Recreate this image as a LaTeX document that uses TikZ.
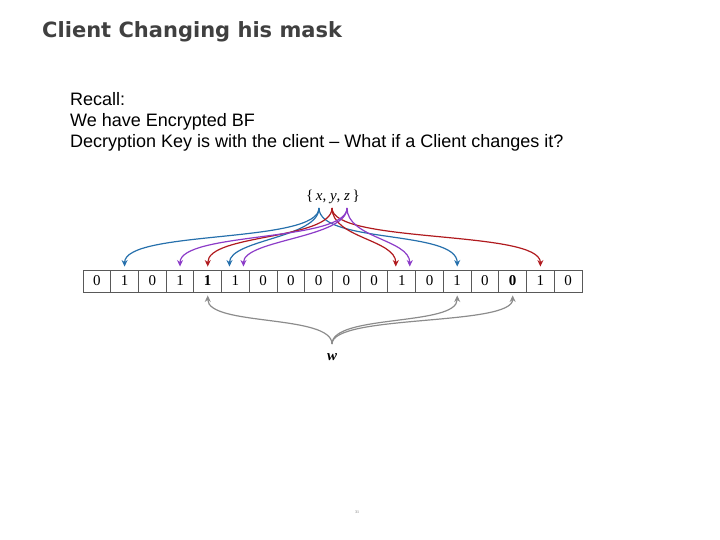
\documentclass[tikz,border=0pt]{standalone}
\usepackage{fontspec}
\setmainfont{Liberation Serif}
\newfontfamily\titlefont{DejaVu Sans}
\newfontfamily\bodyfont{Liberation Sans}
\usetikzlibrary{arrows.meta}
\definecolor{bfblue}{RGB}{38,112,172}
\definecolor{bfred}{RGB}{176,26,30}
\definecolor{bfpurple}{RGB}{140,60,200}
\definecolor{bfgray}{RGB}{140,140,140}
\definecolor{titlegray}{RGB}{64,64,64}
\tikzset{
  cell/.style={draw=black!65, line width=0.9pt, minimum width=27.72pt, minimum height=22pt, inner sep=0pt, font=\fontsize{15}{15}\selectfont},
  hash/.style={line width=1.2pt, -{Stealth[length=6.5pt,width=6pt]}, shorten >=3pt},
  titletext/.style={anchor=base west, font=\titlefont\bfseries\fontsize{21}{24}\selectfont, text=titlegray, inner sep=0pt},
  bodytext/.style={anchor=base west, font=\bodyfont\fontsize{18}{20}\selectfont, inner sep=0pt}
}
\begin{document}
\begin{tikzpicture}[x=1pt,y=-1pt]
\useasboundingbox (0,0) rectangle (720,540);
\node[titletext] (title) at (42,38) {Client Changing his mask};
\node[bodytext] (l1) at (70,106) {Recall:};
\node[bodytext] (l2) at (70,127) {We have Encrypted BF};
\node[bodytext] (l3) at (70,148) {Decryption Key is with the client – What if a Client changes it?};
% bit array
\foreach \v [count=\i from 0] in {0,1,0,1,{\textbf{1}},1,0,0,0,0,0,1,0,1,0,{\textbf{0}},1,0}
  \node[cell] (c\i) at ({83+27.72*(\i+0.5)},281) {\v};
% elements
\node[font=\fontsize{15}{15}\selectfont, inner sep=0pt] (set) at (333,197) {\{\,\textit{x}, \textit{y}, \textit{z}\,\}};
\coordinate (sx) at (319,208);
\coordinate (sy) at (332,208);
\coordinate (sz) at (347,208);
% x (blue)
\draw[hash,bfblue] (sx) .. controls +(0,36) and +(0,-40) .. (c1.north);
\draw[hash,bfblue] (sx) .. controls +(0,30) and +(0,-30) .. ([xshift=-6pt]c5.north);
\draw[hash,bfblue] (sx) .. controls +(0,36) and +(0,-40) .. (c13.north);
% y (red)
\draw[hash,bfred] (sy) .. controls +(0,32) and +(0,-36) .. (c4.north);
\draw[hash,bfred] (sy) .. controls +(0,30) and +(0,-30) .. ([xshift=-6pt]c11.north);
\draw[hash,bfred] (sy) .. controls +(0,36) and +(0,-40) .. (c16.north);
% z (purple)
\draw[hash,bfpurple] (sz) .. controls +(0,34) and +(0,-38) .. (c3.north);
\draw[hash,bfpurple] (sz) .. controls +(0,30) and +(0,-30) .. ([xshift=8pt]c5.north);
\draw[hash,bfpurple] (sz) .. controls +(0,30) and +(0,-30) .. ([xshift=8pt]c11.north);
% w (gray)
\node[font=\fontsize{15}{15}\selectfont\bfseries\itshape, inner sep=0pt] (w) at (332,357) {w};
\coordinate (sw) at (332,344);
\draw[hash,bfgray] (sw) .. controls +(0,-30) and +(0,34) .. (c4.south);
\draw[hash,bfgray] (sw) .. controls +(0,-30) and +(0,34) .. (c13.south);
\draw[hash,bfgray] (sw) .. controls +(0,-30) and +(0,34) .. (c15.south);
% page number
\node[font=\fontsize{4}{4}\selectfont, text=black!60, inner sep=0pt] (pg) at (357,512) {31};
\end{tikzpicture}
\end{document}
